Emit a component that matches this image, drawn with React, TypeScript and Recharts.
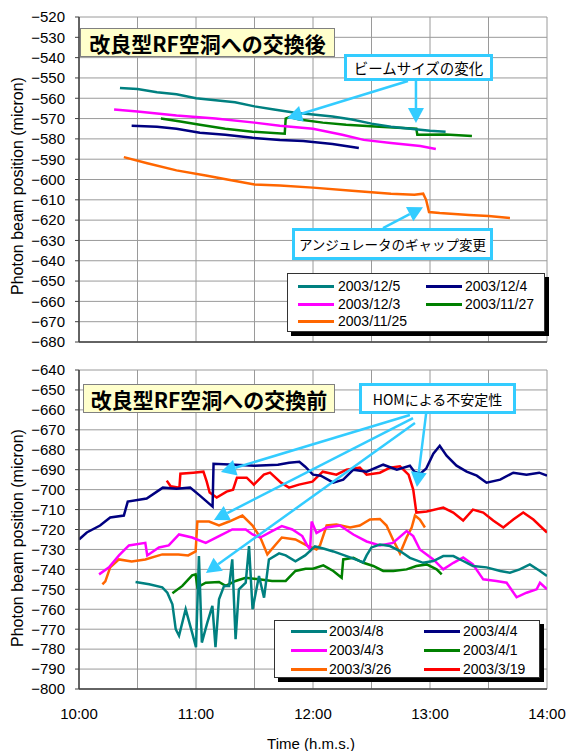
import React from 'react';
import { LineChart, Line, XAxis, YAxis, CartesianGrid, ReferenceLine } from 'recharts';

// time is minutes after 10:00, value is micron
type Pt = [number, number];

const xTicks = [0, 30, 60, 90, 120, 150, 180, 210, 240];
const topTicks = [-680, -670, -660, -650, -640, -630, -620, -610, -600, -590, -580, -570, -560, -550, -540, -530, -520];
const bottomTicks = [-800, -790, -780, -770, -760, -750, -740, -730, -720, -710, -700, -690, -680, -670, -660, -650, -640];

// after the cavity change
const dec5: Pt[] = [[21, -555], [30, -555.5], [40, -557], [50, -558], [60, -560], [70, -561], [80, -562], [90, -564], [100, -565.5], [110, -567], [120, -568], [130, -569], [140, -570.5], [150, -572.5], [160, -574], [170, -575], [180, -576], [188, -576.5]];
const dec4: Pt[] = [[27, -573.5], [40, -574], [50, -575], [62, -577], [75, -578], [89, -579.5], [103, -580.5], [115, -581], [130, -582.5], [143.5, -584.5]];
const dec3: Pt[] = [[18, -565.5], [30, -566.5], [50, -568.5], [70, -570], [90, -572], [103, -573.5], [120, -575], [135, -578], [146, -580.5], [160, -582], [175, -583.5], [183, -585]];
const nov27: Pt[] = [[42, -570], [52, -571.5], [62, -573], [75, -575], [89, -576.5], [105.5, -577.5], [106, -570], [108, -569.3], [113, -570.5], [125, -572], [137, -573], [154, -574], [173, -575], [173.5, -578], [188, -577.8], [201.5, -578.6]];
const nov25: Pt[] = [[23, -589], [35, -592], [50, -595.5], [65, -598], [76, -600], [90, -602.5], [103, -603], [120, -604], [140, -605.5], [160, -607], [172, -607.5], [176.5, -607], [178, -610], [179.5, -616], [185, -616.5], [200, -617.5], [210, -618], [221, -619]];

// before the cavity change
const apr8: Pt[] = [[29, -746.3], [36, -747.5], [42.7, -749], [45.3, -751.7], [47.9, -757.5], [49.6, -770], [51.3, -773.3], [54.7, -760], [58, -771.7], [60, -779], [61.5, -733.3], [63, -776.7], [65.8, -766.7], [68.4, -758.3], [70, -779], [71.8, -755], [74.4, -748.3], [77, -748.3], [78.6, -735], [80.3, -775], [82, -750], [85.5, -746.7], [87.2, -728.3], [89, -760], [92.3, -743.3], [94.9, -754.2], [97.4, -735], [102.6, -732], [106, -733], [111, -736], [116, -733], [121, -728.5], [125.3, -729.5], [130.4, -731], [139, -734], [145.8, -736.5], [147.5, -733], [150, -729], [154.3, -727.5], [159.5, -728.3], [164.6, -730.8], [169.7, -734.2], [176.5, -736.7], [181.7, -735.8], [186.8, -733.3], [192, -733.3], [197, -735.8], [202, -738.3], [209, -739], [216, -740.8], [221, -741.7], [226, -740], [231.2, -737.5], [236.4, -740.8], [240, -743.3]];
const apr4: Pt[] = [[0, -725], [4, -721.5], [10.8, -718], [16, -714], [23, -713], [25, -706], [34.7, -704.5], [43, -699], [50, -699.5], [57, -699], [62, -703], [68.5, -708.5], [69, -687], [80, -687.5], [90, -688], [102, -687.5], [107.7, -686.5], [113, -686], [116, -688.5], [120, -692.5], [124, -693], [130.4, -696.5], [135.5, -695], [140.7, -690], [147.5, -691], [156, -687.5], [163, -690], [169.7, -688], [172, -691], [175, -692], [178, -689.5], [181.7, -682], [185, -678], [188.5, -683], [193.6, -688], [198.8, -691], [204, -693], [209, -696.5], [216, -695], [222.7, -691.5], [229.5, -692.5], [236, -691.5], [240, -693]];
const apr3: Pt[] = [[10.3, -742.5], [15.4, -739], [20.5, -733], [25.6, -728], [34, -726.7], [35, -733], [41, -729], [46, -728], [51.3, -722.5], [58, -724], [65, -726.7], [71.8, -723.3], [78.6, -720], [85.5, -720], [89, -722.5], [93, -724], [99, -720.8], [104, -718.3], [109.4, -720], [114.5, -723.3], [117, -728], [118.5, -730], [119.3, -716], [121.8, -721.7], [127, -719], [133.8, -718], [140.7, -722.5], [147.5, -726], [154.3, -728], [161, -726.7], [168, -720.8], [171.4, -723.3], [174.8, -730], [181.7, -735], [186.8, -740], [192, -736.7], [197, -734], [202, -737.5], [207.3, -745], [214, -745.8], [219.3, -746.7], [224.4, -754], [229.5, -751.7], [234.7, -750], [236.4, -746.7], [240, -750]];
const apr1: Pt[] = [[47.9, -752], [53, -748.3], [58, -743], [59.8, -742.5], [60.7, -749], [65, -746.7], [71.8, -746.3], [75.2, -748.3], [80.3, -745.8], [85.5, -744.2], [92.3, -745], [99, -745.8], [106, -745.8], [111, -740.8], [116.2, -739.7], [120, -739.7], [125.3, -738], [130.4, -740.8], [134.7, -744.2], [135.5, -735], [140.7, -734.2], [145.8, -736.7], [150.9, -738.3], [156, -740.8], [161.2, -740.8], [168, -740], [173, -738.3], [178.3, -737.5], [183.4, -740], [186, -742.5]];
const mar26: Pt[] = [[12, -747.5], [13.5, -746], [16, -739], [20.5, -735], [27, -736], [34, -735], [42.7, -732.5], [51, -732.5], [56, -733], [59.8, -731], [60.7, -716], [66.7, -716], [71.8, -718], [77, -716], [83.8, -713], [89, -718], [93, -724], [96.6, -732.5], [100.9, -727.5], [104, -724], [111, -725], [116.7, -728], [121.8, -730], [123.6, -728], [127, -718], [132, -717.5], [139, -719], [144, -718], [149.2, -715], [154.3, -714.7], [157.7, -718], [161, -725], [164.6, -732], [168, -724], [170.6, -719], [172.3, -713], [174.8, -715], [177.4, -719]];
const mar19: Pt[] = [[45, -695.5], [47, -698.3], [51.5, -699], [52, -692], [58.6, -691.5], [63.8, -691], [65.5, -696], [67, -701.5], [70.6, -704], [75.7, -701], [79, -700], [81, -694], [86, -694], [89.7, -697.5], [94.8, -692.5], [98, -691.5], [103.6, -696.5], [107.7, -699], [112.8, -697.5], [119.7, -696], [125, -691], [132, -692.5], [137.2, -690], [144, -689], [147.5, -692.5], [154.3, -691.5], [159.5, -689], [164.6, -688.3], [169, -692.5], [171.4, -700], [173, -711.5], [178.3, -711], [186.8, -709], [191.9, -711.5], [197, -715.5], [202, -710], [207.3, -711.5], [212.4, -715.5], [217.6, -719], [222.7, -715], [227.8, -711.5], [233, -715], [240, -721.5]];

const topSeries = [
  { name: '2003/12/5', color: '#008080', data: dec5 },
  { name: '2003/12/4', color: '#000080', data: dec4 },
  { name: '2003/12/3', color: '#ff00ff', data: dec3 },
  { name: '2003/11/27', color: '#008000', data: nov27 },
  { name: '2003/11/25', color: '#ff6600', data: nov25 },
];
const bottomSeries = [
  { name: '2003/4/8', color: '#008080', data: apr8 },
  { name: '2003/4/4', color: '#000080', data: apr4 },
  { name: '2003/4/3', color: '#ff00ff', data: apr3 },
  { name: '2003/4/1', color: '#008000', data: apr1 },
  { name: '2003/3/26', color: '#ff6600', data: mar26 },
  { name: '2003/3/19', color: '#ff0000', data: mar19 },
];

// annotation arrows in data coordinates: [t1, v1, t2, v2], head at the second point
const topArrows = [
  [168.7, -551.5, 106.7, -569.8],
  [172.8, -551.5, 172.8, -572.2],
  [155.9, -623.9, 176.4, -613.6],
];
const bottomArrows = [
  [169.7, -662.6, 72.8, -691.2],
  [171.3, -664.1, 69.2, -715.2],
  [172.3, -666.6, 65.1, -741.8],
  [178, -662, 173.3, -698.7],
];

const CYAN = '#33ccff';
const FONT = '"Liberation Sans", Arial, "Noto Sans CJK JP", sans-serif';
const JP = '"Noto Sans CJK JP", "Liberation Sans", sans-serif';

const toRows = (d: Pt[]) => d.map(([t, v]) => ({ t, v }));
const fmtY = (v: number) => String(v).replace('-', '\u2212');
const fmtX = (t: number) => (t % 60 === 0 ? `${10 + t / 60}:00` : '');

const Arrow = (props: any) => {
  const { x1, y1, x2, y2 } = props;
  const dx = x2 - x1, dy = y2 - y1;
  const len = Math.hypot(dx, dy) || 1;
  const ux = dx / len, uy = dy / len;
  const hl = 15, hw = 8;
  const bx = x2 - ux * hl, by = y2 - uy * hl;
  return (
    <g>
      <line x1={x1} y1={y1} x2={bx} y2={by} stroke={CYAN} strokeWidth={2.5} />
      <polygon points={`${x2},${y2} ${bx - uy * hw},${by + ux * hw} ${bx + uy * hw},${by - ux * hw}`} fill={CYAN} />
    </g>
  );
};

const Callout = ({ left, top, width, height, text, size }: any) => (
  <div style={{
    position: 'absolute', left, top, width, height, boxSizing: 'border-box', border: `3px solid ${CYAN}`,
    background: '#fff', fontFamily: JP, fontSize: size, color: '#000', display: 'flex', alignItems: 'center', justifyContent: 'center', whiteSpace: 'nowrap',
  }}>{text}</div>
);

const TitleBox = ({ left, top, width, height, text }: any) => (
  <div style={{
    position: 'absolute', left, top, width, height, boxSizing: 'border-box', border: '1.5px solid #808080',
    background: '#ffffcc', fontFamily: JP, fontWeight: 700, fontSize: 21, color: '#000', display: 'flex', alignItems: 'center', justifyContent: 'center', whiteSpace: 'nowrap',
  }}>{text}</div>
);

const LegendBox = ({ series, left, top, width, height, rows, lineX, textX }: any) => (
  <div style={{ position: 'absolute', left, top, width, height, boxSizing: 'border-box', border: '1px solid #333', background: '#fff', boxShadow: '4px 4px 0 #000' }}>
    {series.map((s: any, i: number) => {
      const row = Math.floor(i / 2), col = i % 2;
      return (
        <div key={s.name} style={{ position: 'absolute', left: 0, top: rows[row] - 9, height: 18, width: '100%' }}>
          <div style={{ position: 'absolute', left: lineX[col], top: 8, width: 36, height: 3, background: s.color }} />
          <div style={{ position: 'absolute', left: textX[col], top: 0, fontFamily: FONT, fontSize: 14, lineHeight: '18px', color: '#000', whiteSpace: 'nowrap' }}>{s.name}</div>
        </div>
      );
    })}
  </div>
);

const YLabel = ({ cy }: { cy: number }) => (
  <div style={{
    position: 'absolute', left: 18 - 150, top: cy - 10, width: 300, height: 20, textAlign: 'center',
    transform: 'rotate(-90deg)', fontFamily: FONT, fontSize: 16, lineHeight: '20px', color: '#000', whiteSpace: 'nowrap',
  }}>Photon beam position (micron)</div>
);

export default function App() {
  const axisColor = '#404040';
  return (
    <div style={{ position: 'absolute', left: 0, top: 0, width: 566, height: 751, background: '#fff', fontFamily: FONT, overflow: 'hidden' }}>
      <div style={{ position: 'absolute', left: 0, top: 0 }}>
        <LineChart width={566} height={350} margin={{ top: 17, right: 19, bottom: 7, left: 0 }}>
          <CartesianGrid stroke="#9a9a9a" />
          <XAxis type="number" dataKey="t" domain={[0, 240]} ticks={xTicks} tickFormatter={() => ''} tickLine={false} tickSize={0} height={1} axisLine={{ stroke: axisColor, strokeWidth: 1.5 }} allowDataOverflow />
          <YAxis type="number" domain={[-680, -520]} ticks={topTicks} interval={0} width={79} tickSize={4} tickMargin={10} tickFormatter={fmtY}
            tick={{ fill: '#000', fontSize: 15 }} axisLine={{ stroke: axisColor, strokeWidth: 1.5 }} tickLine={{ stroke: axisColor }} allowDataOverflow />
          {[...topSeries].reverse().map(s => (
            <Line key={s.name} data={toRows(s.data)} dataKey="v" type="linear" stroke={s.color} strokeWidth={2.5} dot={false} isAnimationActive={false} />
          ))}
          {topArrows.map((a, i) => (
            <ReferenceLine key={i} segment={[{ x: a[0], y: a[1] }, { x: a[2], y: a[3] }]} shape={Arrow} ifOverflow="visible" />
          ))}
        </LineChart>
      </div>
      <div style={{ position: 'absolute', left: 0, top: 350 }}>
        <LineChart width={566} height={401} margin={{ top: 20, right: 19, bottom: 32, left: 0 }}>
          <CartesianGrid stroke="#9a9a9a" />
          <XAxis type="number" dataKey="t" domain={[0, 240]} ticks={xTicks} interval={0} tickFormatter={fmtX} tickLine={false} tickSize={0} tickMargin={19} height={30}
            tick={{ fill: '#000', fontSize: 15 }} axisLine={{ stroke: axisColor, strokeWidth: 1.5 }} allowDataOverflow />
          <YAxis type="number" domain={[-800, -640]} ticks={bottomTicks} interval={0} width={79} tickSize={4} tickMargin={10} tickFormatter={fmtY}
            tick={{ fill: '#000', fontSize: 15 }} axisLine={{ stroke: axisColor, strokeWidth: 1.5 }} tickLine={{ stroke: axisColor }} allowDataOverflow />
          {[...bottomSeries].reverse().map(s => (
            <Line key={s.name} data={toRows(s.data)} dataKey="v" type="linear" stroke={s.color} strokeWidth={2.5} dot={false} isAnimationActive={false} />
          ))}
          {bottomArrows.map((a, i) => (
            <ReferenceLine key={i} segment={[{ x: a[0], y: a[1] }, { x: a[2], y: a[3] }]} shape={Arrow} ifOverflow="visible" />
          ))}
        </LineChart>
      </div>

      <YLabel cy={186} />
      <YLabel cy={538} />
      <div style={{ position: 'absolute', left: 211, top: 735, width: 200, textAlign: 'center', fontFamily: FONT, fontSize: 15, color: '#000', whiteSpace: 'nowrap' }}>Time (h.m.s.)</div>

      <TitleBox left={80} top={28} width={255} height={29} text="改良型RF空洞への交換後" />
      <TitleBox left={83} top={384} width={252} height={29} text="改良型RF空洞への交換前" />
      <Callout left={344} top={54} width={149} height={27} size={14.5} text="ビームサイズの変化" />
      <Callout left={292} top={228} width={201} height={32} size={13.5} text="アンジュレータのギャップ変更" />
      <Callout left={359} top={383} width={157} height={31} size={14} text="HOMによる不安定性" />

      <LegendBox series={topSeries} left={287} top={273} width={258} height={59} rows={[12, 30, 47]} lineX={[10, 138]} textX={[50, 177]} />
      <LegendBox series={bottomSeries} left={274} top={620} width={266} height={58} rows={[10, 29, 48]} lineX={[16, 149]} textX={[54, 188]} />
    </div>
  );
}
